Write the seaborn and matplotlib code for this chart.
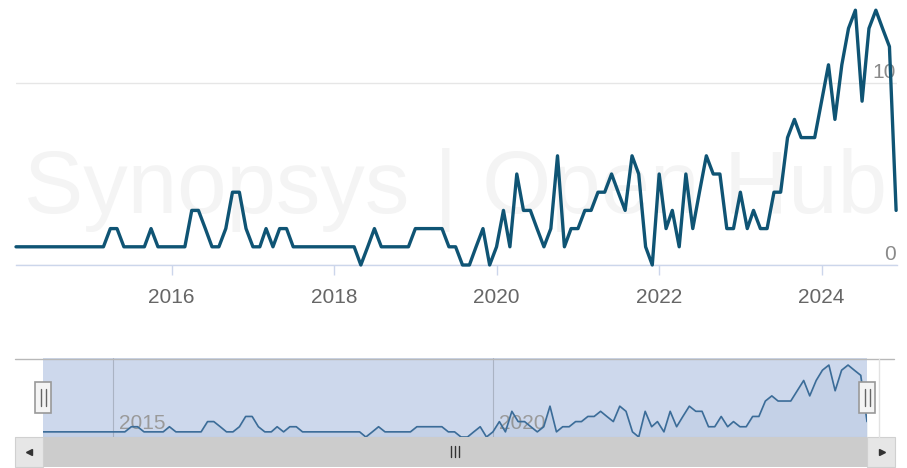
import numpy as np
import pandas as pd
import matplotlib
matplotlib.use("Agg")
import matplotlib.pyplot as plt
import matplotlib.transforms as mtrans
from matplotlib.patches import Rectangle
import seaborn as sns

# ---------------- data ----------------
start_month = "2014-02-01"
commits = [
    1, 1, 1, 1, 1, 1, 1, 1, 1, 1, 1, 1, 1,      # 2014-02 .. 2015-02
    1, 2, 2, 1, 1, 1, 1, 2, 1, 1, 1, 1, 1,      # 2015-03 .. 2016-03
    3, 3, 2, 1, 1, 2, 4, 4, 2, 1, 1, 2, 1,      # 2016-04 .. 2017-04
    2, 2, 1, 1, 1, 1, 1, 1, 1, 1, 1, 1, 0,      # 2017-05 .. 2018-05
    1, 2, 1, 1, 1, 1, 1, 2, 2, 2, 2, 2, 1,      # 2018-06 .. 2019-06
    1, 0, 0, 1, 2, 0, 1, 3, 1, 5, 3, 3, 2,      # 2019-07 .. 2020-07
    1, 2, 6, 1, 2, 2, 3, 3, 4, 4, 5, 4, 3,      # 2020-08 .. 2021-08
    6, 5, 1, 0, 5, 2, 3, 1, 5, 2, 4, 6, 5,      # 2021-09 .. 2022-09
    5, 2, 2, 4, 2, 3, 2, 2, 4, 4, 7, 8, 7,      # 2022-10 .. 2023-10
    7, 7, 9, 11, 8, 11, 13, 14, 9, 13, 14, 13, 12,  # 2023-11 .. 2024-11
    3,                                          # 2024-12
]
main_xticks = ["2016", "2018", "2020", "2022", "2024"]
nav_xticks = ["2015", "2020"]
y_ticks = [0, 10]
watermark = "Synopsys | Open Hub"

dates = pd.date_range(start_month, periods=len(commits), freq="MS")
df = pd.DataFrame({"date": dates, "commits": commits})

# ---------------- style ----------------
sns.set_theme(style="white")
plt.rcParams["font.family"] = ["Liberation Sans", "DejaVu Sans"]

W, H = 907, 468
fig = plt.figure(figsize=(W / 100, H / 100), dpi=100)


def box(l, t, r, b):
    return [l / W, 1 - b / H, (r - l) / W, (b - t) / H]


LINE = "#0f5474"
GRAY_TXT = "#666666"

# ---------------- main chart ----------------
ax = fig.add_axes(box(16, 0, 897, 265))
ax.patch.set_alpha(0)
ax.text(0.4983, 0.196, watermark, transform=ax.transAxes, ha="center",
        va="baseline", fontsize=64, color="#f4f4f4", zorder=0, clip_on=False)
sns.lineplot(data=df, x="date", y="commits", ax=ax, color=LINE,
             linewidth=2.4, zorder=3, clip_on=False)
ax.set_xlim(dates[0], dates[-1] + pd.Timedelta(days=4))
ax.set_ylim(0, 265 / 18.2)
ax.set_xlabel("")
ax.set_ylabel("")
ax.set_yticks(y_ticks)
ax.yaxis.grid(True, color="#e6e6e6", linewidth=1)
ax.set_axisbelow(True)
ax.tick_params(axis="y", left=False, labelleft=False)
for s in ["top", "left", "right"]:
    ax.spines[s].set_visible(False)
ax.spines["bottom"].set_color("#ccd6eb")
ax.spines["bottom"].set_linewidth(1)
ax.set_xticks([pd.Timestamp(f"{y}-01-01") for y in main_xticks])
ax.set_xticklabels(main_xticks)
ax.tick_params(axis="x", bottom=True, length=7.5, width=1, color="#ccd6eb",
               labelsize=15, labelcolor=GRAY_TXT, pad=9)
ylab_tr = mtrans.blended_transform_factory(ax.transAxes, ax.transData) + \
    mtrans.ScaledTranslation(-1 / 100, 5 / 100, fig.dpi_scale_trans)
for v in y_ticks:
    ax.text(1, v, str(v), transform=ylab_tr, ha="right", va="baseline",
            fontsize=15, color="#8a8a8a", zorder=1, clip_on=False)

# ---------------- navigator ----------------
axn = fig.add_axes(box(43, 358, 867, 437))
axn.set_facecolor("#cdd8ec")
sns.lineplot(data=df, x="date", y="commits", ax=axn, color="#3b6c98",
             linewidth=1.2, zorder=3)
axn.fill_between(df["date"], df["commits"], color="#3b6c98", alpha=0.06, zorder=2)
axn.set_xlim(dates[0], dates[-1])
axn.set_ylim(0, 79 / 5.14)
axn.set_xlabel("")
axn.set_ylabel("")
nav_tick_dates = [pd.Timestamp(f"{y}-01-01") for y in nav_xticks]
axn.set_xticks(nav_tick_dates)
axn.set_yticks([])
axn.xaxis.grid(True, color="#aab3c3", linewidth=0.8)
axn.tick_params(axis="x", length=0, labelbottom=False)
for s in axn.spines.values():
    s.set_visible(False)
nav_tr = mtrans.blended_transform_factory(axn.transData, axn.transAxes) + \
    mtrans.ScaledTranslation(6 / 100, 8 / 100, fig.dpi_scale_trans)
for d, lab in zip(nav_tick_dates, nav_xticks):
    axn.text(d, 0, lab, transform=nav_tr, ha="left", va="baseline",
             fontsize=15, color="#9a9a9a", zorder=1)

# ---------------- chrome: outline, handles, scrollbar ----------------
ov = fig.add_axes([0, 0, 1, 1], zorder=5)
ov.set_xlim(0, W)
ov.set_ylim(H, 0)
ov.axis("off")
ov.patch.set_alpha(0)

ov.plot([15, 894], [358.5, 358.5], color="#b8b8b8", lw=1)
ov.plot([879, 879], [358.5, 437], color="#e2e2e2", lw=1)

# scrollbar
ov.add_patch(Rectangle((15, 437), 880, 30, facecolor="#eeeeee", edgecolor="none"))
ov.add_patch(Rectangle((43, 437), 824, 30, facecolor="#cccccc", edgecolor="none"))
ov.add_patch(Rectangle((15, 437), 28, 30, facecolor="#e6e6e6", edgecolor="#d0d0d0", lw=0.8))
ov.add_patch(Rectangle((867, 437), 28, 30, facecolor="#e6e6e6", edgecolor="#d0d0d0", lw=0.8))
ov.plot([28.5], [452], marker="<", ms=5, color="#333333", linestyle="none")
ov.plot([881.5], [452], marker=">", ms=5, color="#333333", linestyle="none")
for gx in (451, 455, 459):
    ov.plot([gx, gx], [446, 457], color="#333333", lw=1)

# handles
for hx in (43, 867):
    ov.add_patch(Rectangle((hx - 8, 382), 16, 31, facecolor="#f4f4f4",
                           edgecolor="#999999", lw=1.2))
    for dx in (-2.5, 2.5):
        ov.plot([hx + dx, hx + dx], [389, 406], color="#666666", lw=1)

fig.savefig("out.png", dpi=100)
